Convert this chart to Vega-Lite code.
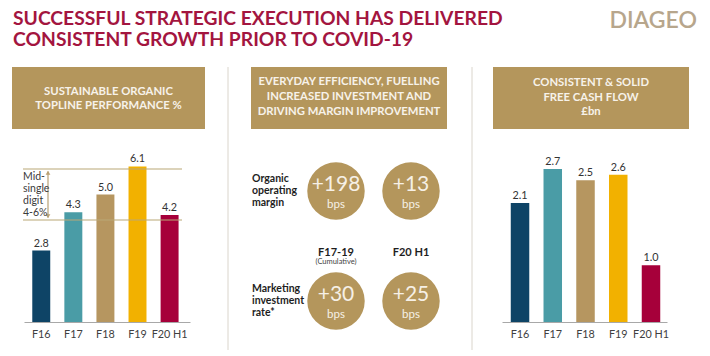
{
  "$schema": "https://vega.github.io/schema/vega-lite/v6.json",
  "background": "white",
  "padding": {"left": 12, "top": 10, "right": 0, "bottom": 0},
  "spacing": 46,
  "bounds": "flush",
  "config": {
    "view": {"stroke": null},
    "font": "Lato"
  },
  "hconcat": [
    {
      "width": 193,
      "height": 255,
      "layer": [
        {
          "data": {"values": [{"year": "F16", "growth": 2.8}, {"year": "F17", "growth": 4.3}, {"year": "F18", "growth": 5.0}, {"year": "F19", "growth": 6.1}, {"year": "F20 H1", "growth": 4.2}]},
          "mark": {"type": "bar"},
          "encoding": {
            "x": {"field": "year", "type": "nominal", "sort": null,
              "scale": {"type": "band", "range": [12, 178], "paddingInner": 0.44, "paddingOuter": 0.307, "align": 0.42},
              "axis": {"title": null, "domainColor": "#A8A8A8", "ticks": false, "labelPadding": 6, "labelFontSize": 10.8, "labelColor": "#404040", "labelAngle": 0}},
            "y": {"field": "growth", "type": "quantitative", "scale": {"domain": [0, 9.6]}, "axis": null},
            "color": {"field": "year", "type": "nominal", "legend": null,
              "scale": {"domain": ["F16", "F17", "F18", "F19", "F20 H1"], "range": ["#0E4466", "#4A9CA6", "#B69660", "#F2B100", "#A6003A"]}}
          }
        },
        {
          "data": {"values": [{"year": "F16", "growth": 2.8}, {"year": "F17", "growth": 4.3}, {"year": "F18", "growth": 5.0}, {"year": "F19", "growth": 6.1}, {"year": "F20 H1", "growth": 4.2}]},
          "mark": {"type": "text", "color": "#333333", "fontSize": 10.8, "baseline": "alphabetic", "dy": -4},
          "encoding": {
            "x": {"field": "year", "type": "nominal", "sort": null},
            "y": {"field": "growth", "type": "quantitative"},
            "text": {"field": "growth", "type": "quantitative", "format": ".1f"}
          }
        },
        {
          "data": {"values": [{"header": "box"}]},
          "mark": {"type": "rect", "color": "#B4965C"},
          "encoding": {"x": {"value": 0}, "x2": {"value": 193}, "y": {"value": 0}, "y2": {"value": 62}}
        },
        {
          "data": {"values": [{"header": ["SUSTAINABLE ORGANIC", "TOPLINE PERFORMANCE %"]}]},
          "mark": {"type": "text", "color": "#F7F2EA", "fontWeight": "bold", "fontSize": 11.3, "lineHeight": 13.5, "align": "center", "baseline": "middle"},
          "encoding": {"x": {"value": 96.5}, "y": {"value": 25}, "text": {"field": "header", "type": "nominal"}}
        },
        {
          "data": {"values": [{"headline": ["SUCCESSFUL STRATEGIC EXECUTION HAS DELIVERED", "CONSISTENT GROWTH PRIOR TO COVID-19"]}]},
          "mark": {"type": "text", "color": "#A3153F", "fontWeight": "bold", "fontSize": 19.3, "lineHeight": 21, "align": "left", "baseline": "alphabetic"},
          "encoding": {"x": {"value": 1}, "y": {"value": -42}, "text": {"field": "headline", "type": "nominal"}}
        },
        {
          "data": {"values": [{"bound": 4}, {"bound": 6}]},
          "mark": {"type": "rule", "color": "#B9A877", "strokeWidth": 1.2},
          "encoding": {"x": {"value": 11}, "x2": {"value": 170}, "y": {"field": "bound", "type": "quantitative"}}
        },
        {
          "data": {"values": [{"lo": 4.1, "hi": 5.9}]},
          "mark": {"type": "rule", "color": "#B9A174", "strokeWidth": 1.2},
          "encoding": {"x": {"value": 36}, "y": {"field": "lo", "type": "quantitative"}, "y2": {"field": "hi"}}
        },
        {
          "data": {"values": [{"end": 5.85}]},
          "mark": {"type": "point", "filled": true, "color": "#B9A174", "size": 22, "shape": "triangle-up", "opacity": 1},
          "encoding": {"x": {"value": 36}, "y": {"field": "end", "type": "quantitative"}}
        },
        {
          "data": {"values": [{"end": 4.15}]},
          "mark": {"type": "point", "filled": true, "color": "#B9A174", "size": 22, "shape": "triangle-down", "opacity": 1},
          "encoding": {"x": {"value": 36}, "y": {"field": "end", "type": "quantitative"}}
        },
        {
          "data": {"values": [{"mid": 5, "note": ["Mid-", "single", "digit", "4-6%"]}]},
          "mark": {"type": "text", "color": "#3A3A3A", "fontSize": 10.5, "lineHeight": 12.3, "align": "left", "baseline": "middle", "dy": -18},
          "encoding": {"x": {"value": 11}, "y": {"field": "mid", "type": "quantitative"}, "text": {"field": "note", "type": "nominal"}}
        }
      ]
    },
    {
      "width": 196,
      "height": 255,
      "layer": [
        {
          "data": {"values": [{"header": "box"}]},
          "mark": {"type": "rect", "color": "#B4965C"},
          "encoding": {"x": {"value": 0}, "x2": {"value": 196}, "y": {"value": 0}, "y2": {"value": 62}}
        },
        {
          "data": {"values": [{"header": ["EVERYDAY EFFICIENCY, FUELLING", "INCREASED INVESTMENT AND", "DRIVING MARGIN IMPROVEMENT"]}]},
          "mark": {"type": "text", "color": "#F7F2EA", "fontWeight": "bold", "fontSize": 11.3, "lineHeight": 15, "align": "center", "baseline": "middle"},
          "encoding": {"x": {"value": 98}, "y": {"value": 15}, "text": {"field": "header", "type": "nominal"}}
        },
        {
          "data": {"values": [{"side": "left"}]},
          "mark": {"type": "rule", "color": "#DAD5CC", "strokeWidth": 1},
          "encoding": {"x": {"value": -23}, "y": {"value": 0}, "y2": {"value": 283}}
        },
        {
          "data": {"values": [{"side": "right"}]},
          "mark": {"type": "rule", "color": "#DAD5CC", "strokeWidth": 1},
          "encoding": {"x": {"value": 221}, "y": {"value": 0}, "y2": {"value": 283}}
        },
        {
          "data": {"values": [
            {"metric": "Organic operating margin", "period": "F17-19", "bps": "+198"},
            {"metric": "Organic operating margin", "period": "F20 H1", "bps": "+13"},
            {"metric": "Marketing investment rate*", "period": "F17-19", "bps": "+30"},
            {"metric": "Marketing investment rate*", "period": "F20 H1", "bps": "+25"}
          ]},
          "mark": {"type": "point", "filled": true, "shape": "circle", "color": "#B4965C", "opacity": 1, "size": 3300},
          "encoding": {
            "x": {"field": "period", "type": "nominal", "scale": {"type": "point", "domain": ["F17-19", "F20 H1"], "range": [85, 160], "padding": 0}, "axis": null},
            "y": {"field": "metric", "type": "nominal", "scale": {"type": "point", "domain": ["Organic operating margin", "Marketing investment rate*"], "range": [124, 234], "padding": 0}, "axis": null}
          }
        },
        {
          "data": {"values": [
            {"metric": "Organic operating margin", "period": "F17-19", "bps": "+198"},
            {"metric": "Organic operating margin", "period": "F20 H1", "bps": "+13"},
            {"metric": "Marketing investment rate*", "period": "F17-19", "bps": "+30"},
            {"metric": "Marketing investment rate*", "period": "F20 H1", "bps": "+25"}
          ]},
          "mark": {"type": "text", "color": "#F6F0E6", "fontSize": 21, "baseline": "middle", "dy": -6},
          "encoding": {
            "x": {"field": "period", "type": "nominal"},
            "y": {"field": "metric", "type": "nominal"},
            "text": {"field": "bps", "type": "nominal"}
          }
        },
        {
          "data": {"values": [
            {"metric": "Organic operating margin", "period": "F17-19", "unit": "bps"},
            {"metric": "Organic operating margin", "period": "F20 H1", "unit": "bps"},
            {"metric": "Marketing investment rate*", "period": "F17-19", "unit": "bps"},
            {"metric": "Marketing investment rate*", "period": "F20 H1", "unit": "bps"}
          ]},
          "mark": {"type": "text", "color": "#F6F0E6", "fontSize": 11.5, "baseline": "middle", "dy": 14},
          "encoding": {
            "x": {"field": "period", "type": "nominal"},
            "y": {"field": "metric", "type": "nominal"},
            "text": {"field": "unit", "type": "nominal"}
          }
        },
        {
          "data": {"values": [
            {"metric": "Organic operating margin", "label": ["Organic", "operating", "margin"]},
            {"metric": "Marketing investment rate*", "label": ["Marketing", "investment", "rate*"]}
          ]},
          "mark": {"type": "text", "color": "#1E1E1E", "fontWeight": "bold", "fontSize": 10.5, "lineHeight": 12, "align": "left", "baseline": "middle", "dy": -12},
          "encoding": {
            "x": {"value": 1},
            "y": {"field": "metric", "type": "nominal"},
            "text": {"field": "label", "type": "nominal"}
          }
        },
        {
          "data": {"values": [
            {"period": "F17-19", "metric": "Organic operating margin"},
            {"period": "F20 H1", "metric": "Organic operating margin"}
          ]},
          "mark": {"type": "text", "color": "#1E1E1E", "fontWeight": "bold", "fontSize": 11, "baseline": "middle", "dy": 62},
          "encoding": {
            "x": {"field": "period", "type": "nominal"},
            "y": {"field": "metric", "type": "nominal"},
            "text": {"field": "period", "type": "nominal"}
          }
        },
        {
          "data": {"values": [{"period": "F17-19", "metric": "Organic operating margin", "note": "(Cumulative)"}]},
          "mark": {"type": "text", "color": "#444444", "fontSize": 7.5, "baseline": "middle", "dy": 71},
          "encoding": {
            "x": {"field": "period", "type": "nominal"},
            "y": {"field": "metric", "type": "nominal"},
            "text": {"field": "note", "type": "nominal"}
          }
        }
      ]
    },
    {
      "width": 196,
      "height": 255,
      "layer": [
        {
          "data": {"values": [{"year": "F16", "fcf": 2.1}, {"year": "F17", "fcf": 2.7}, {"year": "F18", "fcf": 2.5}, {"year": "F19", "fcf": 2.6}, {"year": "F20 H1", "fcf": 1.0}]},
          "mark": {"type": "bar"},
          "encoding": {
            "x": {"field": "year", "type": "nominal", "sort": null,
              "scale": {"type": "band", "range": [9, 174], "paddingInner": 0.435, "paddingOuter": 0.237, "align": 0.565},
              "axis": {"title": null, "domainColor": "#A8A8A8", "ticks": false, "labelPadding": 6, "labelFontSize": 10.8, "labelColor": "#404040", "labelAngle": 0}},
            "y": {"field": "fcf", "type": "quantitative", "scale": {"domain": [0, 4.36]}, "axis": null},
            "color": {"field": "year", "type": "nominal", "legend": null,
              "scale": {"domain": ["F16", "F17", "F18", "F19", "F20 H1"], "range": ["#0E4466", "#4A9CA6", "#B69660", "#F2B100", "#A6003A"]}}
          }
        },
        {
          "data": {"values": [{"year": "F16", "fcf": 2.1}, {"year": "F17", "fcf": 2.7}, {"year": "F18", "fcf": 2.5}, {"year": "F19", "fcf": 2.6}, {"year": "F20 H1", "fcf": 1.0}]},
          "mark": {"type": "text", "color": "#333333", "fontSize": 10.8, "baseline": "alphabetic", "dy": -4},
          "encoding": {
            "x": {"field": "year", "type": "nominal", "sort": null},
            "y": {"field": "fcf", "type": "quantitative"},
            "text": {"field": "fcf", "type": "quantitative", "format": ".1f"}
          }
        },
        {
          "data": {"values": [{"header": "box"}]},
          "mark": {"type": "rect", "color": "#B4965C"},
          "encoding": {"x": {"value": 0}, "x2": {"value": 196}, "y": {"value": 0}, "y2": {"value": 62}}
        },
        {
          "data": {"values": [{"header": ["CONSISTENT & SOLID", "FREE CASH FLOW", "£bn"]}]},
          "mark": {"type": "text", "color": "#F7F2EA", "fontWeight": "bold", "fontSize": 11.3, "lineHeight": 14.5, "align": "center", "baseline": "middle"},
          "encoding": {"x": {"value": 98}, "y": {"value": 16}, "text": {"field": "header", "type": "nominal"}}
        },
        {
          "data": {"values": [{"logo": "DIAGEO"}]},
          "mark": {"type": "text", "color": "#B7A68C", "fontSize": 23, "fontWeight": 600, "align": "right", "baseline": "alphabetic"},
          "encoding": {"x": {"value": 204}, "y": {"value": -39}, "text": {"field": "logo", "type": "nominal"}}
        }
      ]
    }
  ]
}
